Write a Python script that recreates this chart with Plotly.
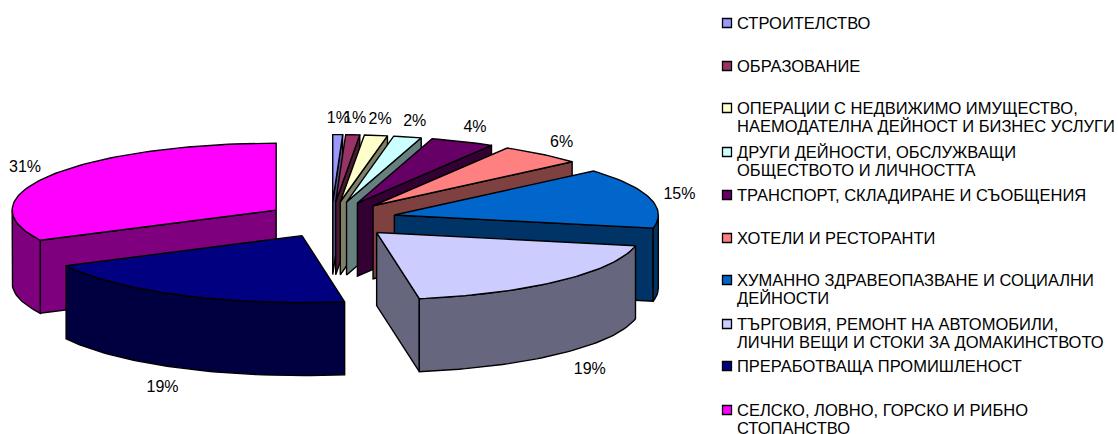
import math
import plotly.graph_objects as go

categories = ["СТРОИТЕЛСТВО", "ОБРАЗОВАНИЕ",
              "ОПЕРАЦИИ С НЕДВИЖИМО ИМУЩЕСТВО,<br>НАЕМОДАТЕЛНА ДЕЙНОСТ И БИЗНЕС УСЛУГИ",
              "ДРУГИ ДЕЙНОСТИ, ОБСЛУЖВАЩИ<br>ОБЩЕСТВОТО И ЛИЧНОСТТА",
              "ТРАНСПОРТ, СКЛАДИРАНЕ И СЪОБЩЕНИЯ", "ХОТЕЛИ И РЕСТОРАНТИ",
              "ХУМАННО ЗДРАВЕОПАЗВАНЕ И СОЦИАЛНИ<br>ДЕЙНОСТИ",
              "ТЪРГОВИЯ, РЕМОНТ НА АВТОМОБИЛИ,<br>ЛИЧНИ ВЕЩИ И СТОКИ ЗА ДОМАКИНСТВОТО",
              "ПРЕРАБОТВАЩА ПРОМИШЛЕНОСТ",
              "СЕЛСКО, ЛОВНО, ГОРСКО И РИБНО<br>СТОПАНСТВО"]
values = [0.6, 0.85, 1.4, 1.7, 3.9, 5.1, 14.5, 19.2, 20.1, 32.3]
value_labels = ["1%", "1%", "2%", "2%", "4%", "6%", "15%", "19%", "19%", "31%"]
top_colors = ["#9999FF", "#993366", "#FFFFCC", "#CCFFFF", "#660066",
              "#FF8080", "#0066CC", "#CCCCFF", "#000080", "#FF00FF"]
legend_y = [23, 66, 108, 152, 195, 238, 280, 324, 366, 410]

# pie geometry in the page-sized plot axes
CX, CY = 331.5, 219.6
RX, RY = 264, 67
DEPTH = 73
PULL_X, PULL_Y = 65, 18
LABEL_X, LABEL_Y = 31, 17
FRONT_LABEL_X, FRONT_LABEL_Y = 43, 22
LABEL_DROP = 1.5
DRAW_ORDER = [0, 1, 2, 3, 4, 5, 6, 7, 9, 8]
TEXT = dict(family="Liberation Sans", size=16.5, color="#000000")
LINE_STEP = 18


def shade(color):
    return "#" + "".join(f"{int(color[i:i + 2], 16) // 2:02X}" for i in (1, 3, 5))


def rim(ax, ay, t0, t1, dy=0):
    n = max(2, int(abs(t1 - t0) / 1.5) + 2)
    ts = [t0 + (t1 - t0) * i / (n - 1) for i in range(n)]
    return ([ax + RX * math.sin(math.radians(t)) for t in ts],
            [ay - RY * math.cos(math.radians(t)) + dy for t in ts])


fig = go.Figure()


def poly(xs, ys, color):
    fig.add_trace(go.Scatter(x=xs + xs[:1], y=ys + ys[:1], mode="lines", fill="toself",
                             fillcolor=color, line=dict(color="#000000", width=1.4),
                             hoverinfo="skip", showlegend=False))


total = sum(values)
starts, s = [], 0.0
for v in values:
    starts.append(s)
    s += v / total * 360

label_x, label_y = [None] * len(values), [None] * len(values)
for i in DRAW_ORDER:
    t0 = starts[i]
    t1 = t0 + values[i] / total * 360
    mid = math.radians((t0 + t1) / 2)
    ax = CX + PULL_X * math.sin(mid)
    ay = CY - PULL_Y * math.cos(mid)
    side = shade(top_colors[i])

    def radial_wall(t):
        ex, ey = rim(ax, ay, t, t)
        poly([ax, ex[0], ex[0], ax], [ay, ey[0], ey[0] + DEPTH, ay + DEPTH], side)

    if 180 < t0 < 360:
        radial_wall(t0)
    if 0 < t1 < 180:
        radial_wall(t1)
    a0, a1 = max(t0, 90), min(t1, 270)
    if a1 > a0:
        ux, uy = rim(ax, ay, a0, a1)
        lx, ly = rim(ax, ay, a0, a1, DEPTH)
        poly(ux + lx[::-1], uy + ly[::-1], side)
    tx, ty = rim(ax, ay, t0, t1)
    poly([ax] + tx, [ay] + ty, top_colors[i])
    front = math.cos(mid) < 0
    label_x[i] = ax + (RX + (FRONT_LABEL_X if front else LABEL_X)) * math.sin(mid)
    label_y[i] = (ay - (RY + (FRONT_LABEL_Y if front else LABEL_Y)) * math.cos(mid)
                  + (DEPTH if front else LABEL_DROP))

fig.add_trace(go.Scatter(x=label_x, y=label_y, text=value_labels, mode="text",
                         textposition="middle center",
                         textfont=dict(family="Liberation Sans", size=16, color="#000000"),
                         hoverinfo="skip", showlegend=False))

fig.add_trace(go.Scatter(x=[727] * len(categories), y=legend_y, mode="markers",
                         marker=dict(symbol="square", size=9, color=top_colors,
                                     line=dict(color="#000000", width=1.3)),
                         hoverinfo="skip", showlegend=False))
for name, y in zip(categories, legend_y):
    for k, line in enumerate(name.split("<br>")):
        fig.add_annotation(x=737, y=y - 0.3 + k * LINE_STEP, text=line, showarrow=False,
                           xanchor="left", yanchor="middle", align="left",
                           borderpad=0, borderwidth=0, font=TEXT)

fig.update_layout(width=1118, height=434, margin=dict(l=0, r=0, t=0, b=0),
                  paper_bgcolor="#FFFFFF", plot_bgcolor="#FFFFFF", showlegend=False)
fig.update_xaxes(range=[0, 1118], visible=False, fixedrange=True)
fig.update_yaxes(range=[434, 0], visible=False, fixedrange=True)
fig.write_html("out.html", config={"displayModeBar": False},
               post_script="document.body.style.margin='0';document.documentElement.style.overflow='hidden';")
